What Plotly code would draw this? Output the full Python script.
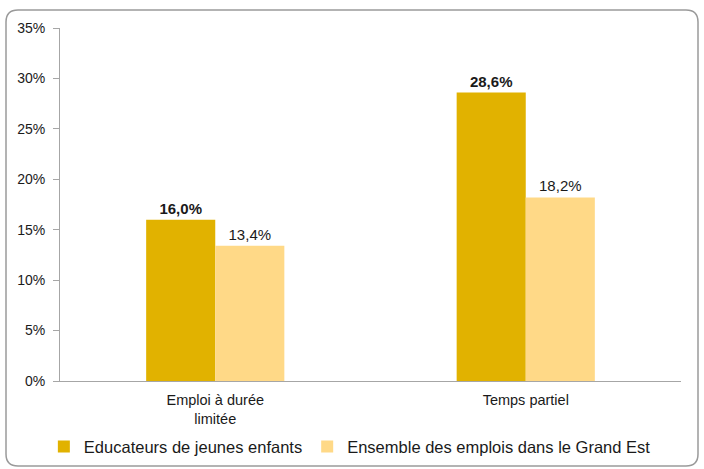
import plotly.graph_objects as go

categories = ["Emploi à durée<br>limitée", "Temps partiel"]
series_names = ["Educateurs de jeunes enfants", "Ensemble des emplois dans le Grand Est"]
educateurs = [16.0, 28.6]
ensemble = [13.4, 18.2]
tick_vals = [0, 5, 10, 15, 20, 25, 30, 35]
tick_text = ["0%", "5%", "10%", "15%", "20%", "25%", "30%", "35%"]

def fmt(v):
    return f"{v:.1f}%".replace(".", ",")

W, H = 704, 469
L, R, T, B = 60, 23, 28, 88
pw, ph = W - L - R, H - T - B

fig = go.Figure()
fig.add_trace(go.Bar(
    x=categories, y=educateurs, name=series_names[0],
    marker=dict(color="#E1B200", line=dict(width=0)),
    text=["<b>" + fmt(v) + "</b>" for v in educateurs],
    textposition="outside", cliponaxis=False,
    textfont=dict(family="Liberation Sans, Arial", size=15, color="#1a1a1a"),
))
fig.add_trace(go.Bar(
    x=categories, y=ensemble, name=series_names[1],
    marker=dict(color="#FFD987", line=dict(width=0)),
    text=[fmt(v) for v in ensemble],
    textposition="outside", cliponaxis=False,
    textfont=dict(family="Liberation Sans, Arial", size=15, color="#1a1a1a"),
))

def px2x(px):
    return (px - L) / pw

def py2y(py):
    return (H - B - py) / ph

x0, x1, y0, y1, r = 6, 698, 10, 466, 12
path = (
    f"M {px2x(x0 + r)},{py2y(y0)} L {px2x(x1 - r)},{py2y(y0)} "
    f"Q {px2x(x1)},{py2y(y0)} {px2x(x1)},{py2y(y0 + r)} "
    f"L {px2x(x1)},{py2y(y1 - r)} Q {px2x(x1)},{py2y(y1)} {px2x(x1 - r)},{py2y(y1)} "
    f"L {px2x(x0 + r)},{py2y(y1)} Q {px2x(x0)},{py2y(y1)} {px2x(x0)},{py2y(y1 - r)} "
    f"L {px2x(x0)},{py2y(y0 + r)} Q {px2x(x0)},{py2y(y0)} {px2x(x0 + r)},{py2y(y0)} Z"
)

fig.update_layout(
    width=W, height=H,
    margin=dict(l=L, r=R, t=T, b=B, autoexpand=False),
    paper_bgcolor="white", plot_bgcolor="white",
    barmode="group", bargap=0.555, bargroupgap=0,
    font=dict(family="Liberation Sans, Arial", size=14, color="#1a1a1a"),
    showlegend=True,
    legend=dict(orientation="h", x=-0.026, xanchor="left", y=-0.137, yanchor="top",
                font=dict(size=16.5), traceorder="normal"),
    shapes=[dict(type="path", path=path, xref="paper", yref="paper",
                 line=dict(color="#9a9a9a", width=1.5), fillcolor="rgba(0,0,0,0)")],
)
fig.update_xaxes(showline=True, linecolor="#a6a6a6", linewidth=1, ticks="",
                 tickfont=dict(size=14.5), ticklabelstandoff=6, automargin=False)
fig.update_yaxes(range=[0, 35], tickvals=tick_vals, ticktext=tick_text,
                 showgrid=False, zeroline=False, showline=True, linecolor="#a6a6a6",
                 linewidth=1, ticks="outside", ticklen=6, tickcolor="#a6a6a6",
                 tickfont=dict(size=14), ticklabelstandoff=5, automargin=False)

fig.write_html("out.html", config={"displayModeBar": False},
               post_script="document.body.style.margin='0';")
